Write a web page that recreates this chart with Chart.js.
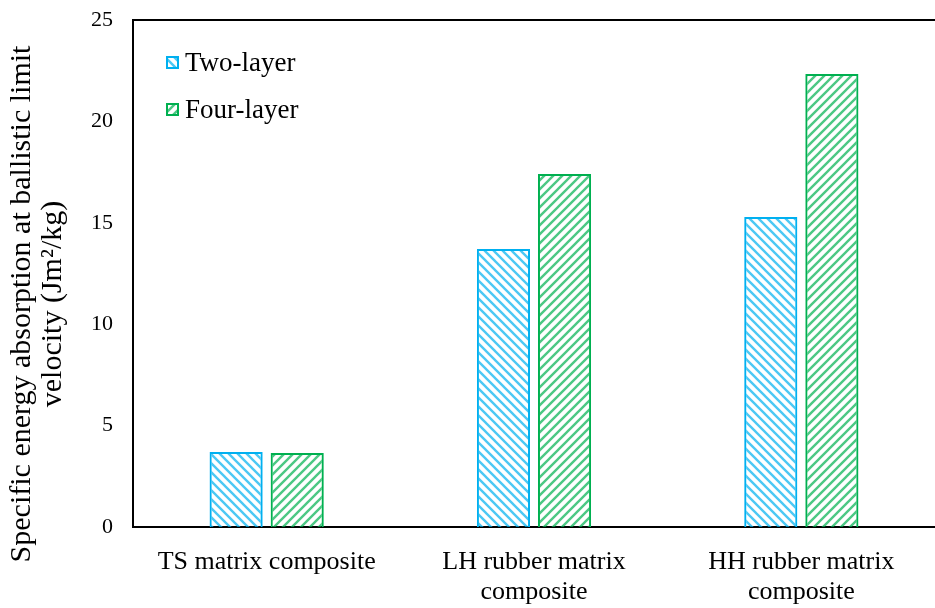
<!DOCTYPE html>
<html>
<head>
<meta charset="utf-8">
<script src="https://cdn.jsdelivr.net/npm/chart.js@4.4.0/dist/chart.umd.min.js"></script>
<style>
  body { margin: 0; background: #fff; }
  #wrap { width: 935px; height: 608px; }
</style>
</head>
<body>
<div id="wrap"><canvas id="myChart"></canvas></div>
<script>
const categories = [
  'TS matrix composite',
  ['LH rubber matrix', 'composite'],
  ['HH rubber matrix', 'composite']
];
const twoLayer = [3.70, 13.71, 15.29];
const fourLayer = [3.65, 17.41, 22.34];
const yTicks = [0, 5, 10, 15, 20, 25];
const yTitle = ['Specific energy absorption at ballistic limit', 'velocity (Jm²/kg)'];

const serif = "'Liberation Serif', 'Times New Roman', serif";

// diagonal stripe fill, like the hatch in the original figure
function stripes(color, forward) {
  const c = document.createElement('canvas');
  c.width = 9; c.height = 9;
  const g = c.getContext('2d');
  g.strokeStyle = color;
  g.lineWidth = 2.4;
  g.beginPath();
  if (forward) {
    g.moveTo(-2, 11); g.lineTo(11, -2);
    g.moveTo(-2, 2); g.lineTo(2, -2);
    g.moveTo(7, 11); g.lineTo(11, 7);
  } else {
    g.moveTo(-2, -2); g.lineTo(11, 11);
    g.moveTo(-2, 7); g.lineTo(2, 11);
    g.moveTo(7, -2); g.lineTo(11, 2);
  }
  g.stroke();
  return g.createPattern(c, 'repeat');
}

const blue = '#00B0F0';
const green = '#00B050';
const bluePat = stripes('rgba(0,176,240,0.7)', false);
const greenPat = stripes('rgba(0,176,80,0.7)', true);

// legend inside the plot, top frame line, y title centred on the page
const extras = {
  id: 'extras',
  afterDraw(chart) {
    const g = chart.ctx;
    const a = chart.chartArea;
    g.save();
    g.strokeStyle = '#000';
    g.lineWidth = 2;
    g.beginPath();
    g.moveTo(a.left - 1, a.top);
    g.lineTo(a.right, a.top);
    g.stroke();

    const items = [
      { label: 'Two-layer', fill: bluePat, line: blue, y: 63 },
      { label: 'Four-layer', fill: greenPat, line: green, y: 110 }
    ];
    g.font = '27px ' + serif;
    g.textBaseline = 'middle';
    items.forEach(it => {
      g.fillStyle = '#fff';
      g.fillRect(167, it.y - 6, 11, 11);
      g.fillStyle = it.fill;
      g.fillRect(167, it.y - 6, 11, 11);
      g.strokeStyle = it.line;
      g.lineWidth = 2;
      g.strokeRect(167, it.y - 6, 11, 11);
      g.fillStyle = '#000';
      g.fillText(it.label, 185, it.y + 1);
    });

    g.translate(0, 304);
    g.rotate(-Math.PI / 2);
    g.font = '30px ' + serif;
    g.textAlign = 'center';
    g.textBaseline = 'middle';
    g.fillStyle = '#000';
    g.fillText(yTitle[0], 0, 22);
    g.fillText(yTitle[1], 0, 53);
    g.restore();
  }
};

const ctx = document.getElementById('myChart').getContext('2d');
const myChart = new Chart(ctx, {
  type: 'bar',
  data: {
    labels: categories,
    datasets: [
      {
        label: 'Two-layer',
        data: twoLayer,
        backgroundColor: bluePat,
        borderColor: blue,
        borderWidth: 2,
        borderSkipped: 'bottom'
      },
      {
        label: 'Four-layer',
        data: fourLayer,
        backgroundColor: greenPat,
        borderColor: green,
        borderWidth: 2,
        borderSkipped: 'bottom'
      }
    ]
  },
  options: {
    responsive: true,
    maintainAspectRatio: false,
    animation: false,
    layout: { padding: { top: 20, right: 0, left: 0, bottom: 0 } },
    datasets: {
      bar: { categoryPercentage: 0.457, barPercentage: 0.87 }
    },
    plugins: {
      legend: { display: false },
      tooltip: { enabled: false }
    },
    scales: {
      x: {
        grid: { display: false, drawTicks: false },
        border: { color: '#000', width: 2 },
        ticks: {
          color: '#000',
          font: { family: serif, size: 26, lineHeight: 1.15 },
          padding: 20,
          maxRotation: 0
        },
        afterFit(scale) { scale.height = 81; scale.paddingLeft = 0; scale.paddingRight = 0; }
      },
      y: {
        min: 0,
        max: 25,
        grid: { display: false, drawTicks: false },
        border: { color: '#000', width: 2 },
        afterBuildTicks(scale) { scale.ticks = yTicks.map(v => ({ value: v })); },
        ticks: {
          color: '#000',
          font: { family: serif, size: 22 },
          padding: 20
        },
        afterFit(scale) { scale.width = 133; scale.paddingTop = 0; scale.paddingBottom = 0; }
      }
    }
  },
  plugins: [extras]
});
</script>
</body>
</html>
